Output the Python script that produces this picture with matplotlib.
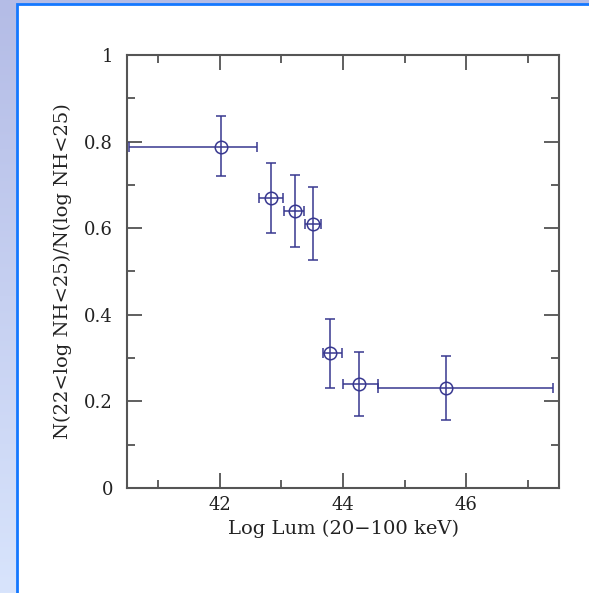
import numpy as np
import matplotlib
matplotlib.use("Agg")
import matplotlib.pyplot as plt
from matplotlib.patches import Rectangle
from matplotlib.ticker import MultipleLocator

# Data
lum = [42.03, 42.83, 43.22, 43.52, 43.785, 44.255, 45.665]
lum_lo = [40.53, 42.64, 43.05, 43.38, 43.68, 44.00, 44.56]
lum_hi = [42.61, 43.03, 43.37, 43.65, 43.98, 44.56, 47.41]
frac = [0.788, 0.669, 0.640, 0.610, 0.311, 0.240, 0.230]
frac_lo = [0.720, 0.590, 0.557, 0.526, 0.230, 0.166, 0.156]
frac_hi = [0.858, 0.751, 0.724, 0.694, 0.390, 0.315, 0.306]

xlabel = "Log Lum (20\u2212100 keV)"
ylabel = "N(22<log NH<25)/N(log NH<25)"

W, H = 589, 593
fig = plt.figure(figsize=(W / 100, H / 100), dpi=100)

# background
bg = fig.add_axes([0, 0, 1, 1], zorder=-10)
top = np.array([180, 188, 230]) / 255
bot = np.array([216, 228, 252]) / 255
t = np.linspace(0, 1, 256)[:, None, None]
grad = top * (1 - t) + bot * t
grad = np.repeat(grad, 2, axis=1)
bg.imshow(grad, extent=[0, W, H, 0], aspect="auto")
bg.add_patch(Rectangle((17, 4), W, H, facecolor="white",
                       edgecolor="#1478ff", linewidth=2.0))
bg.set_xlim(0, W)
bg.set_ylim(H, 0)
bg.axis("off")

ax = fig.add_axes([127 / W, (H - 488) / H, (559 - 127) / W, (488 - 55) / H])
ax.set_facecolor("none")

col = "#383890"
x = np.array(lum)
y = np.array(frac)
xerr = [x - np.array(lum_lo), np.array(lum_hi) - x]
yerr = [y - np.array(frac_lo), np.array(frac_hi) - y]
ax.errorbar(x, y, xerr=xerr, yerr=yerr, fmt="o", mfc="none", mec=col,
            ms=9, mew=1.1, ecolor=col, elinewidth=1.1, capsize=3.3,
            capthick=1.1, color=col)

ax.set_xlim(40.5, 47.5)
ax.set_ylim(0, 1)
ax.xaxis.set_major_locator(MultipleLocator(2))
ax.xaxis.set_minor_locator(MultipleLocator(1))
ax.yaxis.set_major_locator(MultipleLocator(0.2))
ax.yaxis.set_minor_locator(MultipleLocator(0.1))
ax.set_yticks([0, 0.2, 0.4, 0.6, 0.8, 1.0])
ax.set_yticklabels(["0", "0.2", "0.4", "0.6", "0.8", "1"])
ax.set_xticks([42, 44, 46])
ax.set_xticklabels(["42", "44", "46"])

ax.tick_params(which="both", direction="in", top=True, right=True,
               color="#444444", labelsize=13, labelcolor="#222222")
ax.tick_params(which="major", length=11, width=1.2)
ax.tick_params(which="minor", length=6, width=1.2)
ax.tick_params(axis="x", which="major", pad=6)
ax.tick_params(axis="y", which="major", pad=10)
for s in ax.spines.values():
    s.set_color("#555555")
    s.set_linewidth(1.5)

for lab in ax.get_xticklabels() + ax.get_yticklabels():
    lab.set_family("DejaVu Serif")

ax.set_xlabel(xlabel, family="DejaVu Serif", fontsize=14, color="#222222",
              labelpad=4)
ax.set_ylabel(ylabel, family="DejaVu Serif", fontsize=14, color="#222222",
              labelpad=9)

fig.savefig("out.png", dpi=100)
